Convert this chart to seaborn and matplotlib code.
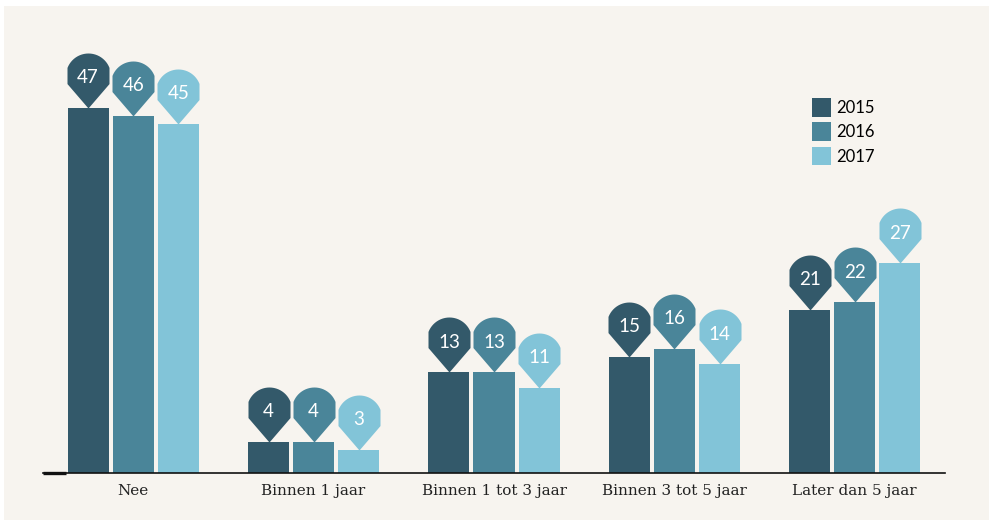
import matplotlib
matplotlib.use("Agg")
import matplotlib.pyplot as plt
from matplotlib.path import Path
from matplotlib.patches import Rectangle
import numpy as np
import seaborn as sns
import pandas as pd

categories = ["Nee", "Binnen 1 jaar", "Binnen 1 tot 3 jaar",
              "Binnen 3 tot 5 jaar", "Later dan 5 jaar"]
years = ["2015", "2016", "2017"]
v2015 = [47, 4, 13, 15, 21]
v2016 = [46, 4, 13, 16, 22]
v2017 = [45, 3, 11, 14, 27]
colors = ["#33596a", "#4a8599", "#82c4d8"]

df = pd.DataFrame({
    "categorie": categories * 3,
    "jaar": [y for y in years for _ in categories],
    "waarde": v2015 + v2016 + v2017,
})

W, H = 989, 520
fig = plt.figure(figsize=(W / 100, H / 100), dpi=100, facecolor="white")
fig.patches.append(Rectangle((4 / W, 0), 1 - 4 / W, 1 - 6 / H,
                             transform=fig.transFigure, facecolor="#f7f4ef",
                             edgecolor="none", zorder=-10))

ax = fig.add_axes([43 / W, 47 / H, 902 / W, 466 / H])
ax.set_facecolor("none")

sns.barplot(data=df, x="categorie", y="waarde", hue="jaar",
            palette=colors, width=0.75, gap=0.09, saturation=1,
            order=categories, hue_order=years, ax=ax)

ax.set_xlim(-0.5, 4.5)
ax.set_ylim(0, 60)

# map-pin marker: tip at the origin, circular head clipped to straight sides
r, cy, hw = 22.5, 32.5, 21.0
a0 = np.arcsin(hw / r)
side_top = cy + np.sqrt(r**2 - hw**2)
side_bot = cy - np.sqrt(r**2 - hw**2)
ang = np.linspace(-a0, a0, 25)
arc = [(r * np.sin(t), cy + r * np.cos(t)) for t in ang]
verts = [(0, 0), (-hw, side_bot), (-hw, side_top)] + arc + \
        [(hw, side_top), (hw, side_bot), (0, 0)]
codes = [Path.MOVETO] + [Path.LINETO] * (len(verts) - 2) + [Path.CLOSEPOLY]
pin = Path(verts, codes)
pin_size = (cy + r) * 0.72 * 2

for container, color in zip(ax.containers, colors):
    for bar in container:
        cx = bar.get_x() + bar.get_width() / 2
        val = bar.get_height()
        ax.plot([cx], [val], marker=pin, markersize=pin_size,
                color=color, markeredgewidth=0, linestyle="none",
                clip_on=False, zorder=3)
        ax.annotate(f"{val:.0f}", xy=(cx, val), xytext=(0, 30 * 0.72),
                    textcoords="offset points", ha="center", va="center",
                    color="white", fontsize=13.5, fontfamily="Lato", zorder=4)

for side in ["top", "right", "left"]:
    ax.spines[side].set_visible(False)
ax.spines["bottom"].set_linewidth(1.2)
ax.spines["bottom"].set_color("#111111")
ax.plot([0, 23 / 902], [0, 0], transform=ax.transAxes, color="#111111",
        linewidth=2.4, clip_on=False, solid_capstyle="butt", zorder=5)

ax.set_yticks([])
ax.set_xlabel("")
ax.set_ylabel("")
ax.tick_params(axis="x", length=0, pad=8)
for lbl in ax.get_xticklabels():
    lbl.set_fontfamily("DejaVu Serif")
    lbl.set_fontsize(11)
    lbl.set_color("#222222")

handles, labels = ax.get_legend_handles_labels()
ax.legend(handles, labels, loc="upper left",
          bbox_to_anchor=(812 / W, 1 - 98 / H), bbox_transform=fig.transFigure,
          frameon=False, borderpad=0, borderaxespad=0,
          handlelength=1.14, handleheight=1.37, labelspacing=0.32,
          handletextpad=0.34, prop={"family": "Lato", "size": 12})

fig.savefig("out.png", dpi=100, facecolor=fig.get_facecolor())
